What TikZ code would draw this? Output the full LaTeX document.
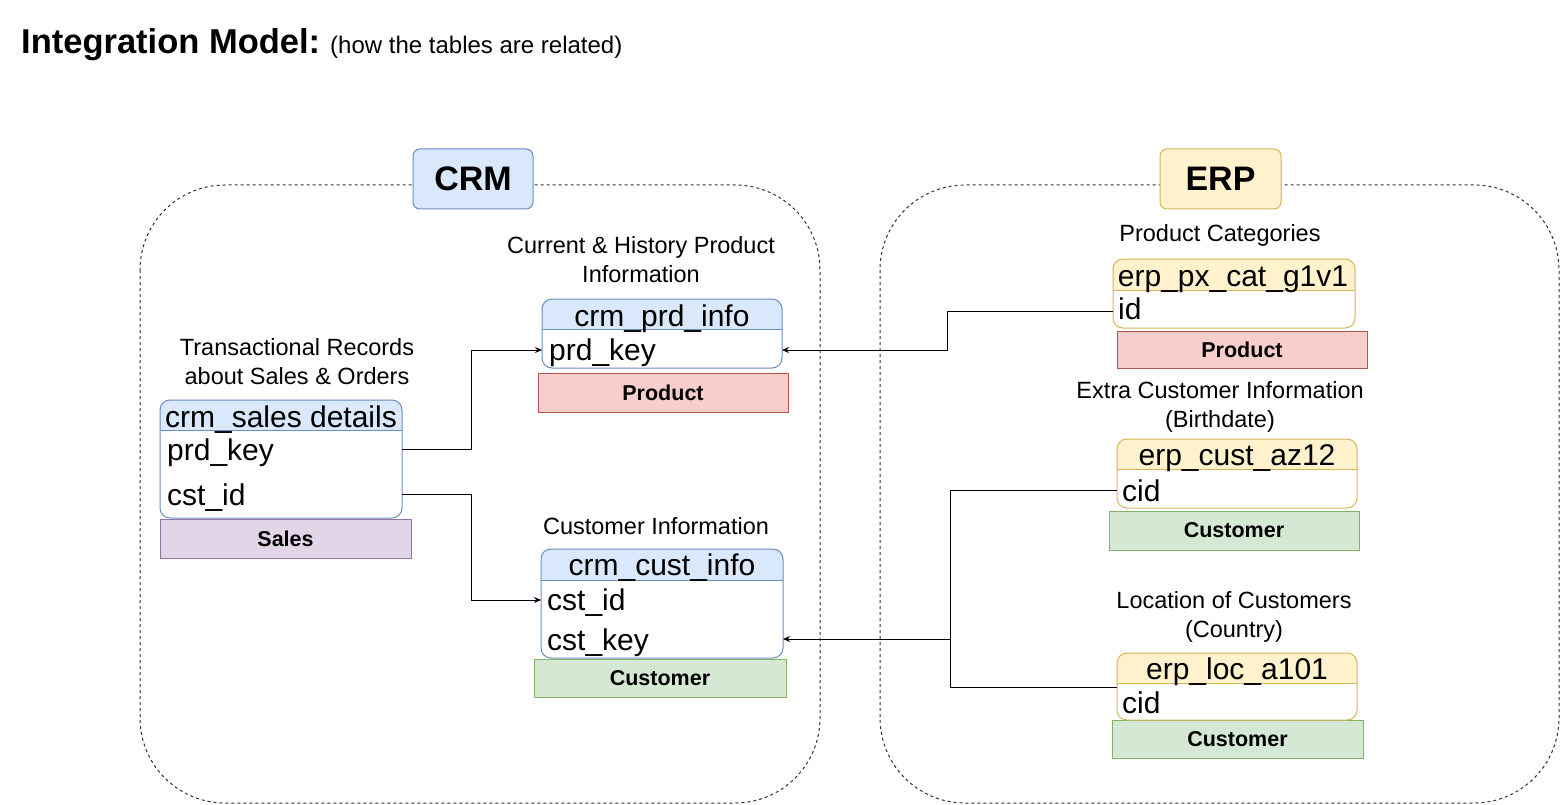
\documentclass[tikz,border=0pt]{standalone}
\usepackage{fontspec}
\setmainfont{Liberation Sans}
\usetikzlibrary{arrows.meta}
\definecolor{bluefill}{HTML}{DAE8FC}
\definecolor{bluestroke}{HTML}{6C8EBF}
\definecolor{yelfill}{HTML}{FFF2CC}
\definecolor{yelstroke}{HTML}{D6B656}
\definecolor{redfill}{HTML}{F8CECC}
\definecolor{redstroke}{HTML}{B85450}
\definecolor{grnfill}{HTML}{D5E8D4}
\definecolor{grnstroke}{HTML}{82B366}
\definecolor{purfill}{HTML}{E1D5E7}
\definecolor{purstroke}{HTML}{9673A6}
\newcommand{\erTable}[8]{%
  \pgfmathsetmacro{\erW}{#4-#2}%
  \pgfmathsetmacro{\erH}{#6-#3}%
  \begin{scope}
    \clip[rounded corners=10pt] (#2,#3) rectangle (#4,#6);
    \fill[white] (#2,#3) rectangle (#4,#6);
    \fill[#7] (#2,#3) rectangle (#4,#5);
  \end{scope}
  \draw[#8, line width=1pt] (#2,#5) -- (#4,#5);
  \node[draw=#8, rounded corners=10pt, line width=1pt, minimum width=\erW pt, minimum height=\erH pt, inner sep=0pt, outer sep=0pt, anchor=north west] (#1) at (#2,#3) {};
}
\tikzset{
  lbl/.style={align=center, font=\fontsize{23.5}{29}\selectfont, inner sep=0pt},
  ttxt/.style={font=\fontsize{30}{36}\selectfont, inner sep=0pt},
  tagbox/.style={line width=1pt, minimum width=250pt, minimum height=38pt, inner sep=0pt, font=\fontsize{21.5}{26}\selectfont\bfseries},
  sysbox/.style={line width=1pt, rounded corners=7pt, minimum width=120pt, minimum height=60pt, inner sep=0pt, font=\fontsize{34}{40}\selectfont\bfseries},
  container/.style={draw=black!80, line width=1pt, dash pattern=on 3pt off 3pt, rounded corners=85pt},
  conn/.style={draw=black, line width=1pt, -{Stealth[length=7pt,width=6pt]}},
  plain/.style={draw=black, line width=1pt},
}
\begin{document}
\begin{tikzpicture}[x=1pt,y=-1pt]
\useasboundingbox[fill=white] (0,0) rectangle (1561,805);
% title
\node[anchor=base west, inner sep=0pt, font=\fontsize{34.5}{40}\selectfont\bfseries] (title) at (21,54) {Integration Model:};
\node[anchor=base west, inner sep=0pt, font=\fontsize{24}{29}\selectfont] (subtitle) at (330,54) {(how the tables are related)};
% containers
\draw[container] (140,185) rectangle (820,803);
\draw[container] (880,185) rectangle (1559,803);
\node[sysbox, draw=bluestroke, fill=bluefill] (crm) at (473,179) {CRM};
\node[sysbox, draw=yelstroke, fill=yelfill, minimum width=121pt] (erp) at (1220.5,179) {ERP};
% labels
\node[lbl] (lsales) at (297,361.5) {Transactional Records\\about Sales \& Orders};
\node[lbl] (lprd) at (641,260) {Current \& History Product\\Information};
\node[lbl] (lcust) at (656,526) {Customer Information};
\node[lbl] (lcat) at (1220,235) {Product Categories};
\node[lbl] (laz) at (1220,406.5) {Extra Customer Information\\(Birthdate)};
\node[lbl] (lloc) at (1234,616.5) {Location of Customers\\(Country)};
% tag boxes
\node[tagbox, draw=purstroke, fill=purfill, minimum width=251pt, minimum height=39pt] (tsales) at (285.5,538.5) {Sales};
\node[tagbox, draw=redstroke, fill=redfill, minimum height=39pt] (tprd) at (663,392.5) {Product};
\node[tagbox, draw=grnstroke, fill=grnfill, minimum width=252pt] (tcust) at (660,678) {Customer};
\node[tagbox, draw=redstroke, fill=redfill, minimum height=37pt] (tcat) at (1242,349.5) {Product};
\node[tagbox, draw=grnstroke, fill=grnfill, minimum height=39pt] (taz) at (1234,530.5) {Customer};
\node[tagbox, draw=grnstroke, fill=grnfill, minimum width=251pt] (tloc) at (1237.5,739) {Customer};
% tables
\erTable{sales}{160}{400}{402}{430}{518}{bluefill}{bluestroke}
\node[ttxt, anchor=base] (salesh) at (281,427) {crm\_sales details};
\node[ttxt, anchor=base west] (salesr1) at (167,460) {prd\_key};
\node[ttxt, anchor=base west] (salesr2) at (167,505) {cst\_id};
\erTable{prd}{542}{299}{782}{329}{368}{bluefill}{bluestroke}
\node[ttxt, anchor=base] (prdh) at (662,326) {crm\_prd\_info};
\node[ttxt, anchor=base west] (prdr1) at (549,360) {prd\_key};
\erTable{cust}{541}{549}{783}{580}{658}{bluefill}{bluestroke}
\node[ttxt, anchor=base] (custh) at (662,575) {crm\_cust\_info};
\node[ttxt, anchor=base west] (custr1) at (547,610) {cst\_id};
\node[ttxt, anchor=base west] (custr2) at (547,650) {cst\_key};
\erTable{cat}{1113}{259}{1355}{290}{328}{yelfill}{yelstroke}
\node[ttxt, anchor=base] (cath) at (1233,287) {erp\_px\_cat\_g1v1};
\node[ttxt, anchor=base west] (catr1) at (1118,319) {id};
\erTable{az}{1117}{439}{1357}{469}{508}{yelfill}{yelstroke}
\node[ttxt, anchor=base] (azh) at (1237,465) {erp\_cust\_az12};
\node[ttxt, anchor=base west] (azr1) at (1122,501) {cid};
\erTable{loc}{1117}{653}{1357}{683}{720}{yelfill}{yelstroke}
\node[ttxt, anchor=base] (loch) at (1237,679) {erp\_loc\_a101};
\node[ttxt, anchor=base west] (locr1) at (1122,713) {cid};
% connector ends
\coordinate (sPrd) at (402,449);
\coordinate (sCst) at (402,494);
\coordinate (pIn) at (542,350);
\coordinate (pInR) at (782,350);
\coordinate (cIn) at (541,600);
\coordinate (cKey) at (783,639);
\coordinate (gId) at (1113,311);
\coordinate (azCid) at (1117,490);
\coordinate (locCid) at (1117,687);
\coordinate (jn) at (950,639);
% connectors
\draw[conn] (sPrd) -- ++(69,0) |- (pIn);
\draw[conn] (sCst) -- ++(69,0) |- (cIn);
\draw[conn] (gId) -- ++(-166,0) |- (pInR);
\draw[plain] (azCid) -- ++(-167,0) |- (locCid);
\draw[conn] (jn) -- (cKey);
\end{tikzpicture}
\end{document}
